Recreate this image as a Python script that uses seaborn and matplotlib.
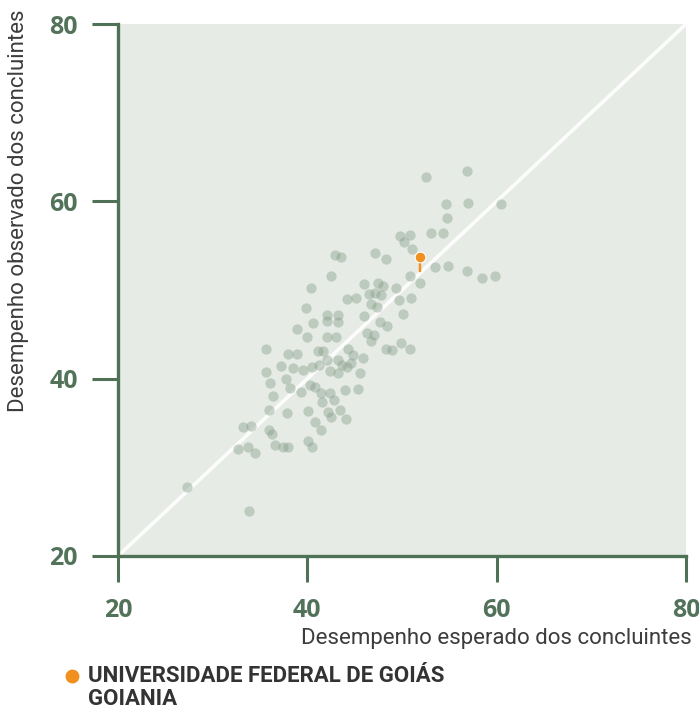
import pandas as pd
import seaborn as sns
import matplotlib.pyplot as plt
from matplotlib.lines import Line2D

# desempenho esperado (x) e observado (y) dos concluintes
esperado = [
    52.5, 56.9, 54.7, 57.0, 60.5, 54.8, 53.1, 54.3, 49.8, 50.8,
    50.2, 51.1, 47.1, 48.3, 42.9, 43.6, 53.5, 54.9, 56.9, 58.5,
    59.8, 50.8, 51.9, 42.5, 40.4, 46.0, 47.5, 48.0, 49.4, 44.2,
    45.1, 46.5, 47.2, 47.8, 46.7, 47.4, 49.7, 50.9, 39.9, 42.1,
    43.2, 46.0, 50.1, 38.9, 40.6, 42.1, 43.2, 47.7, 48.4, 40.0,
    42.1, 43.0, 46.3, 47.0, 46.7, 49.9, 50.8, 35.6, 38.0, 38.9,
    41.1, 41.7, 44.3, 44.8, 48.3, 48.9, 45.9, 42.1, 43.2, 37.2,
    38.5, 39.5, 40.5, 41.2, 43.7, 44.6, 42.4, 43.2, 44.2, 45.6,
    35.6, 36.1, 37.7, 38.2, 39.3, 40.3, 40.8, 41.4, 42.4, 42.8,
    44.0, 45.4, 36.4, 41.6, 35.9, 37.9, 40.1, 42.2, 42.5, 43.5,
    44.1, 40.8, 41.4, 33.2, 34.0, 36.0, 36.3, 40.1, 40.5, 36.6,
    37.4, 38.0, 32.7, 33.7, 34.5, 27.3, 33.8,
]
observado = [
    62.8, 63.4, 59.7, 59.8, 59.7, 58.1, 56.4, 56.4, 56.1, 56.2,
    55.4, 54.6, 54.2, 53.5, 53.9, 53.7, 52.6, 52.7, 52.1, 51.3,
    51.6, 51.6, 50.8, 51.6, 50.2, 50.7, 50.8, 50.4, 50.2, 49.0,
    49.1, 49.5, 49.7, 49.4, 48.4, 48.1, 48.9, 49.1, 48.0, 47.2,
    47.2, 47.1, 47.3, 45.6, 46.3, 46.5, 46.4, 46.4, 45.9, 44.7,
    44.7, 44.7, 45.1, 44.9, 44.2, 44.0, 43.4, 43.3, 42.8, 42.8,
    43.1, 43.1, 43.3, 42.7, 43.4, 43.2, 42.3, 42.1, 42.1, 41.4,
    41.2, 41.0, 41.3, 41.5, 41.5, 41.8, 40.9, 40.6, 41.3, 40.6,
    40.7, 39.5, 40.0, 38.9, 38.5, 39.3, 39.1, 38.4, 38.4, 37.6,
    38.7, 38.8, 38.0, 37.4, 36.5, 36.1, 36.3, 36.2, 35.7, 36.5,
    35.4, 35.1, 34.2, 34.5, 34.7, 34.2, 33.8, 33.0, 32.3, 32.5,
    32.3, 32.3, 32.1, 32.3, 31.6, 27.8, 25.1,
]

destaque_nome = 'UNIVERSIDADE FEDERAL DE GOIÁS\nGOIANIA'
destaque_x = [51.9]
destaque_y = [53.7]

ticks = [20, 40, 60, 80]
limites = (20, 80)

verde = '#4f7155'
verde_txt = '#52735a'
laranja = '#f0901f'
cinza_ponto = '#8aa28f'

sns.set_theme(style='ticks')
plt.rcParams['font.family'] = ['Roboto', 'DejaVu Sans']

df = pd.DataFrame({'esperado': esperado, 'observado': observado})
df_dest = pd.DataFrame({'esperado': destaque_x, 'observado': destaque_y})

fig = plt.figure(figsize=(6.99, 7.13), dpi=100)
ax = fig.add_axes([0.1688, 0.2202, 0.8126, 0.7461])
ax.set_facecolor('#e7ebe6')

ax.plot(limites, limites, color='white', lw=2.6, alpha=0.9, zorder=1)

sns.scatterplot(data=df, x='esperado', y='observado', ax=ax,
                color=cinza_ponto, alpha=0.45, s=55, linewidth=0, zorder=2)

ax.annotate('', xy=(destaque_x[0], destaque_y[0]), xytext=(0, -10),
            textcoords='offset points',
            arrowprops=dict(arrowstyle='-', color=laranja, lw=1.8,
                            shrinkA=0, shrinkB=4), zorder=3)
sns.scatterplot(data=df_dest, x='esperado', y='observado', ax=ax,
                color=laranja, s=60, linewidth=0.8, edgecolor='white', zorder=4)

ax.set_xlim(limites)
ax.set_ylim(limites)
ax.set_xticks(ticks)
ax.set_yticks(ticks)
ax.set_xlabel('')
ax.set_ylabel('')

for lado in ['top', 'right']:
    ax.spines[lado].set_visible(False)
for lado in ['left', 'bottom']:
    ax.spines[lado].set_color(verde)
    ax.spines[lado].set_linewidth(2.4)
    ax.spines[lado].set_capstyle('projecting')

ax.tick_params(axis='both', direction='out', length=19, width=2.2,
               color=verde, labelcolor=verde_txt)
ax.tick_params(axis='x', pad=11)
ax.tick_params(axis='y', pad=10)
for lab in ax.get_xticklabels() + ax.get_yticklabels():
    lab.set_family('Open Sans')
    lab.set_fontweight('bold')
    lab.set_fontsize(18)

fig.text(0.990, 0.105, 'Desempenho esperado dos concluintes',
         ha='right', va='center', fontsize=16, color='#3c3c3c')
fig.text(0.026, 0.986, 'Desempenho observado dos concluintes',
         ha='center', va='top', rotation=90, fontsize=16, color='#3c3c3c')

fig.add_artist(Line2D([0.103], [0.0525], marker='o', markersize=9,
                      color=laranja, linestyle='none',
                      transform=fig.transFigure))
fig.text(0.126, 0.068, destaque_nome, ha='left', va='top',
         fontsize=16, fontweight='bold', color='#333333',
         linespacing=1.1, transform=fig.transFigure)

fig.savefig('out.png', dpi=100)
